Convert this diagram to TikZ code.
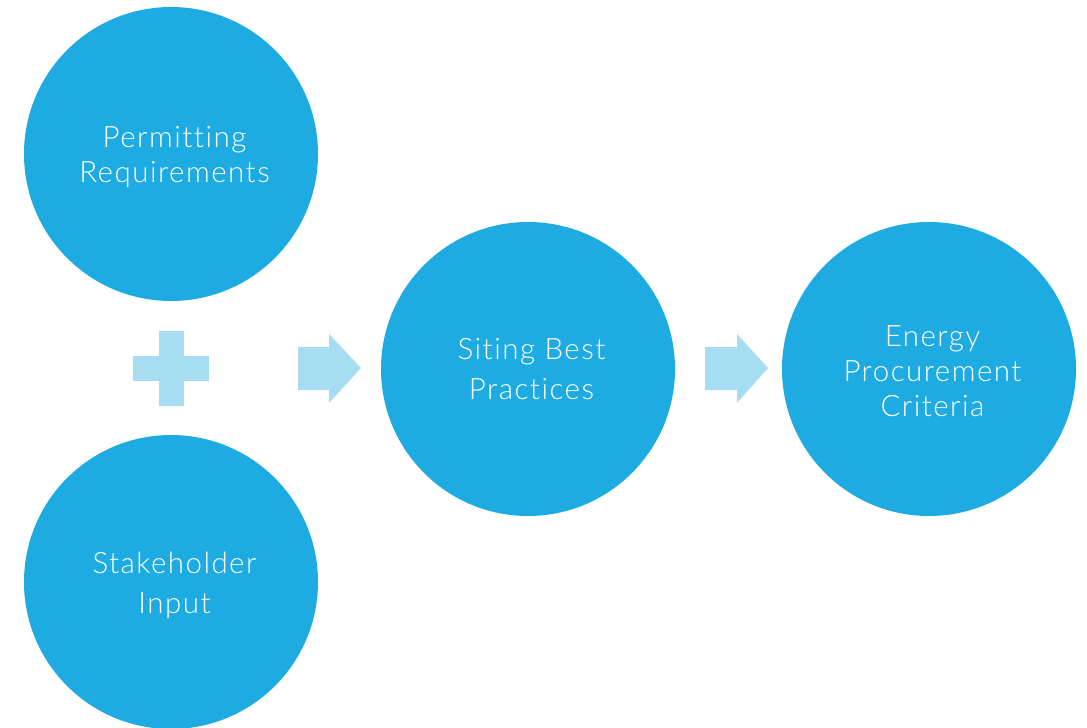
\documentclass[tikz,border=0pt]{standalone}
\usepackage{fontspec}
\setmainfont{Lato Light}[LetterSpace=5,Ligatures=NoCommon]
\definecolor{cblue}{HTML}{1EABE2}
\definecolor{lblue}{HTML}{A6DDF3}
\begin{document}
\begin{tikzpicture}[x=1pt,y=-1pt,
  circ/.style={circle,fill=cblue,minimum size=294pt,inner sep=0pt},
  txt/.style={text=white,align=center,inner sep=0pt,xshift=3.5pt,yshift=-3pt,font=\fontsize{29.5}{35}\selectfont},
  wide/.style={font=\fontsize{29.5}{40}\selectfont},
  sym/.style={fill=lblue}]
\useasboundingbox (0,0) rectangle (1087,728);
\node[circ] (perm) at (171,154) {};
\node[circ] (stake) at (171,582) {};
\node[circ] (siting) at (528,369) {};
\node[circ] (energy) at (929,369) {};
\node[txt] (permt) at (perm.center) {Permitting\\Requirements};
\node[txt,wide] (staket) at (stake.center) {Stakeholder\\Input};
\node[txt,wide,yshift=2.5pt] (sitingt) at (siting.center) {Siting Best\\Practices};
\node[txt,yshift=1pt] (energyt) at (energy.center) {Energy\\Procurement\\Criteria};
\coordinate (plus) at (171,368);
\fill[sym] (159,331) rectangle (184,406);
\fill[sym] (133,356) rectangle (209,381);
\coordinate (a1) at (298,368);
\fill[sym] (298,347) -- (329,347) -- (329,334) -- (361,368) -- (329,403) -- (329,390) -- (298,390) -- cycle;
\coordinate (a2) at (705,368);
\fill[sym] (705,347) -- (737,347) -- (737,334) -- (768,368) -- (737,403) -- (737,390) -- (705,390) -- cycle;
\end{tikzpicture}
\end{document}
